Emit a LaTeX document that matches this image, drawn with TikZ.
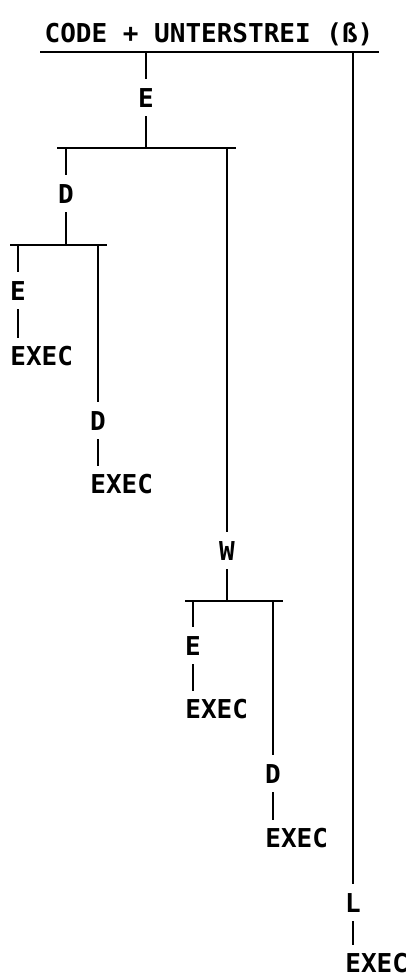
\documentclass[tikz,border=0pt]{standalone}
\usepackage{fontspec}
\setmonofont{DejaVu Sans Mono}
\begin{document}
\begin{tikzpicture}[x=1pt,y=-1pt,
  txt/.style={font=\ttfamily\bfseries\fontsize{26}{26}\selectfont},
  lbl/.style={txt,inner xsep=0pt,inner ysep=9pt,anchor=base},
  execbox/.style={txt,inner sep=0pt,anchor=base west},
  wire/.style={line width=2.2pt,line cap=butt},
  stub/.style={wire,shorten >=8pt}]
\useasboundingbox (0,0) rectangle (412,977);

% heading with its underline
\node[txt,inner sep=0pt,anchor=base] (title) at (209,42) {CODE + UNTERSTREI (ß)};
\coordinate (topL) at (40,52);
\coordinate (topR) at (379,52);
\draw[wire] (topL) -- (topR);

% first branch: E
\node[lbl] (e1) at (146,107) {E};
\draw[wire] (e1 |- topL) -- (e1.north);
\coordinate (b2L) at (57,148);
\coordinate (b2R) at (236,148);
\draw[wire] (b2L) -- (b2R);
\draw[wire] (e1.south) -- (e1 |- b2L);

% D under E
\node[lbl] (d2) at (66,203) {D};
\draw[wire] (d2 |- b2L) -- (d2.north);
\coordinate (b3L) at (10,245);
\coordinate (b3R) at (107,245);
\draw[wire] (b3L) -- (b3R);
\draw[wire] (d2.south) -- (d2 |- b3L);

% E -> EXEC
\node[lbl] (e3) at (18,300) {E};
\node[execbox] (x3) at (10.2,365) {EXEC};
\draw[wire] (e3 |- b3L) -- (e3.north);
\draw[stub] (e3.south) -- (e3 |- x3.north);

% D -> EXEC
\node[lbl] (d4) at (98,430) {D};
\node[execbox] (x4) at (90.2,493) {EXEC};
\draw[wire] (d4 |- b3L) -- (d4.north);
\draw[stub] (d4.south) -- (d4 |- x4.north);

% W under E
\node[lbl] (w) at (227,560) {W};
\draw[wire] (w |- b2L) -- (w.north);
\coordinate (b4L) at (185,601);
\coordinate (b4R) at (283,601);
\draw[wire] (b4L) -- (b4R);
\draw[wire] (w.south) -- (w |- b4L);

% E -> EXEC
\node[lbl] (e5) at (193,655) {E};
\node[execbox] (x5) at (185.2,718) {EXEC};
\draw[wire] (e5 |- b4L) -- (e5.north);
\draw[stub] (e5.south) -- (e5 |- x5.north);

% D -> EXEC
\node[lbl] (d6) at (273,783) {D};
\node[execbox] (x6) at (265.2,847) {EXEC};
\draw[wire] (d6 |- b4L) -- (d6.north);
\draw[stub] (d6.south) -- (d6 |- x6.north);

% L -> EXEC
\node[lbl] (l7) at (353,912) {L};
\node[execbox] (x7) at (345.2,972) {EXEC};
\draw[wire] (l7 |- topL) -- (l7.north);
\draw[stub] (l7.south) -- (l7 |- x7.north);
\end{tikzpicture}
\end{document}
